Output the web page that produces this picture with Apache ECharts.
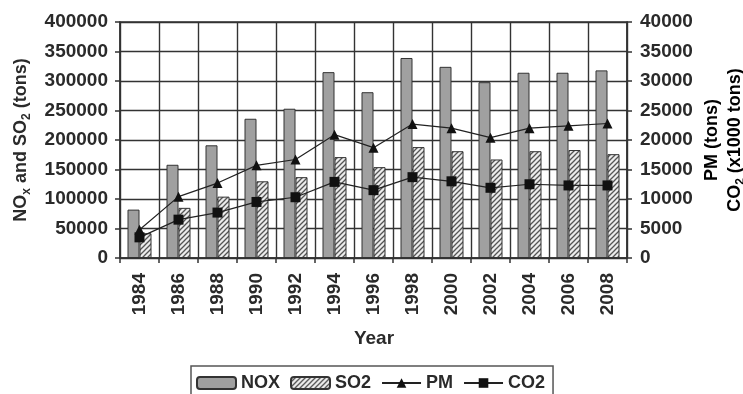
<!DOCTYPE html>
<html>
<head>
<meta charset="utf-8">
<script src="https://cdn.jsdelivr.net/npm/echarts@6/dist/echarts.min.js"></script>
<style>html,body{margin:0;padding:0;background:#fff}#c{width:743px;height:394px}</style>
</head>
<body>
<div id="c"></div>
<script>
const years = ['1984','1986','1988','1990','1992','1994','1996','1998','2000','2002','2004','2006','2008'];
const nox = [82000,158000,191000,236000,253000,315000,281000,339000,324000,298000,314000,314000,318000];
const so2 = [42000,85000,104000,130000,137000,171000,154000,188000,181000,167000,181000,183000,176000];
const pm  = [4800,10400,12700,15700,16700,20900,18700,22700,22000,20400,22000,22400,22800];
const co2 = [3500,6500,7700,9500,10300,12900,11500,13700,13000,11900,12500,12300,12300];
const leftTicks = [0,400000,50000];
const rightTicks = [0,40000,5000];

const FONT = 'Liberation Sans, Arial, sans-serif';
const TXT = '#2a2a2a';
const LINE = '#333';
const FS = 19;

// hatch pattern
const pc = document.createElement('canvas');
pc.width = 5; pc.height = 5;
const g = pc.getContext('2d');
g.fillStyle = '#ececec'; g.fillRect(0,0,5,5);
g.strokeStyle = '#555'; g.lineWidth = 1.3;
g.beginPath();
g.moveTo(-1,6); g.lineTo(6,-1);
g.moveTo(-1,1); g.lineTo(1,-1);
g.moveTo(4,6); g.lineTo(6,4);
g.stroke();

const plain = v => String(v);
const nameRich = {
  n: { fontSize: 18, fontWeight: 'bold', color: TXT, fontFamily: FONT, lineHeight: 23, verticalAlign: 'middle' },
  s: { fontSize: 12, fontWeight: 'bold', color: TXT, fontFamily: FONT, lineHeight: 23, verticalAlign: 'bottom' }
};

const chart = echarts.init(document.getElementById('c'));
chart.setOption({
  animation: false,
  backgroundColor: '#fff',
  textStyle: { fontFamily: FONT },
  grid: { left: 120, right: 116, top: 22, bottom: 136, show: true, borderColor: LINE, borderWidth: 1.4, backgroundColor: 'transparent' },
  legend: {
    left: 191, top: 366,
    itemWidth: 39, itemHeight: 12, itemGap: 10,
    padding: [8, 8, 8, 5],
    borderColor: '#555', borderWidth: 1.5,
    textStyle: { fontFamily: FONT, fontSize: 18, fontWeight: 'bold', color: TXT },
    data: ['NOX','SO2','PM','CO2']
  },
  graphic: [{
    type: 'text', x: 374, y: 339,
    style: { text: 'Year', font: 'bold 19px ' + FONT, fill: TXT, align: 'center', verticalAlign: 'middle' }
  }, {
    type: 'text', x: 724, y: 140, rotation: Math.PI / 2,
    style: {
      text: '{n|PM (tons)}\n{n|CO}{s|2}{n| (x1000 tons)}',
      rich: nameRich, align: 'center', verticalAlign: 'middle'
    }
  }],
  xAxis: {
    type: 'category', data: years, boundaryGap: true,
    axisLine: { show: true, lineStyle: { color: LINE, width: 1.5 } },
    axisTick: { show: true, interval: 0, length: 5, lineStyle: { color: LINE, width: 1.5 } },
    splitLine: { show: true, interval: 0, lineStyle: { color: LINE, width: 1.4, opacity: 1 } },
    axisLabel: { rotate: 90, interval: 0, margin: 15, fontSize: FS, fontWeight: 'bold', color: TXT, fontFamily: FONT }
  },
  yAxis: [{
    type: 'value', min: leftTicks[0], max: leftTicks[1], interval: leftTicks[2],
    position: 'left',
    name: '{n|NO}{s|x}{n| and SO}{s|2}{n| (tons)}',
    nameLocation: 'middle', nameRotate: 90, nameGap: 87,
    nameTextStyle: { rich: nameRich },
    axisLine: { show: true, lineStyle: { color: LINE, width: 1.5 } },
    axisTick: { show: true, length: 5, lineStyle: { color: LINE, width: 1.5 } },
    splitLine: { show: true, lineStyle: { color: LINE, width: 1.4, opacity: 1 } },
    axisLabel: { margin: 12, fontSize: FS, fontWeight: 'bold', color: TXT, fontFamily: FONT, formatter: plain }
  }, {
    type: 'value', min: rightTicks[0], max: rightTicks[1], interval: rightTicks[2],
    position: 'right',
    axisLine: { show: true, lineStyle: { color: LINE, width: 1.5 } },
    axisTick: { show: true, length: 5, lineStyle: { color: LINE, width: 1.5 } },
    splitLine: { show: false },
    axisLabel: { margin: 13, fontSize: FS, fontWeight: 'bold', color: TXT, fontFamily: FONT, formatter: plain }
  }],
  series: [{
    name: 'NOX', type: 'bar', data: nox, yAxisIndex: 0,
    barWidth: 12, barGap: '0%',
    itemStyle: { color: '#a0a0a0', borderColor: '#333', borderWidth: 1 }
  }, {
    name: 'SO2', type: 'bar', data: so2, yAxisIndex: 0,
    barWidth: 12, barGap: '0%',
    itemStyle: { color: { image: pc, repeat: 'repeat' }, borderColor: '#333', borderWidth: 1 }
  }, {
    name: 'PM', type: 'line', data: pm, yAxisIndex: 1,
    symbol: 'triangle', symbolSize: 10,
    lineStyle: { color: '#222', width: 1.2 },
    itemStyle: { color: '#111' }
  }, {
    name: 'CO2', type: 'line', data: co2, yAxisIndex: 1,
    symbol: 'rect', symbolSize: 10,
    lineStyle: { color: '#222', width: 1.2 },
    itemStyle: { color: '#111' }
  }]
});
</script>
</body>
</html>
